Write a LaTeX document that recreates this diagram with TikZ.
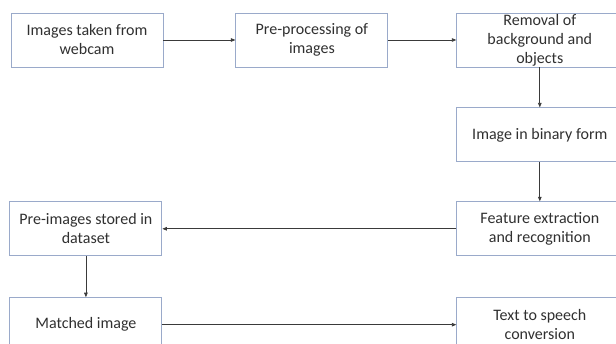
\documentclass[tikz,border=0pt]{standalone}
\usepackage{fontspec}
\setmainfont{Carlito}
\usepackage{xcolor}
\usepackage{tikz}
\usetikzlibrary{arrows.meta,positioning}
\definecolor{boxline}{HTML}{9AAACA}
\definecolor{boxtext}{HTML}{303030}
\definecolor{arrowgrey}{HTML}{3A3A3A}
\tikzset{
    stage/.style={rectangle, draw=boxline, line width=0.9pt, fill=white,
        minimum height=54pt, minimum width=152pt, inner xsep=2pt, inner ysep=0pt,
        align=center, text=boxtext, font=\fontsize{16}{19}\selectfont},
    widestage/.style={stage, minimum width=166pt},
    flow/.style={-{Triangle[length=4.5pt,width=3.5pt]}, line width=0.8pt, draw=arrowgrey}
}

\begin{document}
\begin{tikzpicture}[node distance=40pt and 72pt]
        \path[use as bounding box] (0pt,0pt) rectangle (616pt,-344pt);
        \clip (0pt,0pt) rectangle (616pt,-344pt);
        \node[stage] (webcam) at (87pt,-40pt) {Images taken from\\webcam};
        \node[stage,right=72pt of webcam] (preproc) {Pre-processing of\\images};
        \node[widestage,right=68pt of preproc] (removal) {Removal of\\background and\\objects};
        \node[widestage,below=40pt of removal] (binary) {Image in binary form};
        \node[widestage,below=39pt of binary] (feature) {Feature extraction\\and recognition};
        \node[stage,left=294pt of feature] (dataset) {Pre-images stored in\\dataset};
        \node[stage,below=41pt of dataset] (matched) {Matched image};
        \node[widestage,below=41pt of feature] (speech) {Text to speech\\conversion};
        \draw[flow] (webcam) -- (preproc);
        \draw[flow] (preproc) -- (removal);
        \draw[flow] (removal) -- (binary);
        \draw[flow] (binary) -- (feature);
        \draw[flow] (feature) -- (dataset);
        \draw[flow] (dataset) -- (matched);
        \draw[flow] (matched) -- (speech);
    \end{tikzpicture}
\end{document}
